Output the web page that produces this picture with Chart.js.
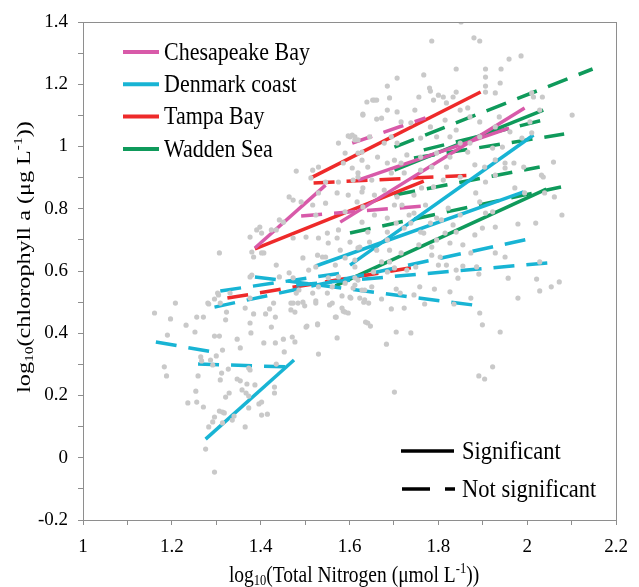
<!DOCTYPE html>
<html>
<head>
<meta charset="utf-8">
<script src="https://cdn.jsdelivr.net/npm/chart.js@4.4.1/dist/chart.umd.min.js"></script>
<style>
  html, body { margin: 0; padding: 0; background: #fff; }
</style>
</head>
<body>
<canvas id="chart" width="639" height="587"></canvas>
<script>
// sites and regression fits (log10 TN vs log10 chl a)
const sites = ['Chesapeake Bay', 'Denmark coast', 'Tampa Bay', 'Wadden Sea'];
const fitSite = [0,0,0,0,0, 1,1,1,1,1,1,1,1,1, 2,2,2,2, 3,3,3,3,3,3,3];
const fitSignificant = [1,0,1,0,1, 1,0,0,0,0,0,0,1,1, 1,1,0,0, 0,0,1,0,0,1,0];
const fitX1 = [1.387,1.606,1.579,1.491,1.619, 1.276,1.164,1.259,1.309,1.296,1.480,1.387,1.601,1.524, 1.387,1.513,1.519,1.325, 1.701,1.745,1.701,1.701,1.601,1.568,1.767];
const fitY1 = [0.674,1.011,0.757,0.777,0.892, 0.060,0.372,0.301,0.536,0.484,0.555,0.581,0.619,0.616, 0.671,0.899,0.883,0.513, 0.998,0.963,0.924,0.844,0.722,0.552,0.989];
const fitX2 = [1.546,1.771,1.994,1.767,1.959, 1.475,1.292,1.457,1.601,2.014,2.070,1.877,2.014,1.992, 1.767,1.895,1.877,1.762, 2.147,2.083,2.036,2.028,2.076,2.043,2.036];
const fitY2 = [0.876,1.092,1.124,0.809,1.059, 0.314,0.340,0.292,0.597,0.706,0.629,0.491,1.037,0.854, 0.889,1.175,0.908,0.616, 1.249,1.040,1.117,0.934,0.870,0.863,1.085];

// observations [log10 TN, log10 chl a]
const observations = [
  [1.161,0.465],[1.208,0.497],[1.197,0.446],[1.232,0.426],[1.256,0.452],[1.271,0.452],[1.283,0.494],[1.296,0.510],
  [1.305,0.523],[1.252,0.404],[1.190,0.394],[1.296,0.391],[1.307,0.391],[1.323,0.468],[1.321,0.443],[1.314,0.346],
  [1.347,0.381],[1.354,0.353],[1.376,0.433],[1.378,0.401],[1.384,0.462],[1.365,0.481],[1.411,0.462],[1.420,0.478],
  [1.433,0.452],[1.424,0.420],[1.407,0.369],[1.433,0.369],[1.451,0.381],[1.453,0.340],[1.471,0.388],[1.477,0.372],
  [1.477,0.468],[1.468,0.497],[1.484,0.497],[1.499,0.488],[1.504,0.423],[1.528,0.430],[1.530,0.333],[1.524,0.504],
  [1.555,0.491],[1.570,0.452],[1.572,0.385],[1.586,0.471],[1.597,0.465],[1.583,0.520],[1.603,0.513],[1.183,0.292],
  [1.188,0.263],[1.254,0.214],[1.236,0.176],[1.256,0.179],[1.271,0.163],[1.259,0.263],[1.265,0.324],[1.267,0.311],
  [1.287,0.314],[1.300,0.327],[1.292,0.298],[1.312,0.272],[1.309,0.250],[1.327,0.285],[1.321,0.195],[1.329,0.208],
  [1.296,0.131],[1.283,0.099],[1.292,0.115],[1.307,0.150],[1.314,0.147],[1.318,0.144],[1.314,0.112],[1.336,0.121],
  [1.340,0.134],[1.365,0.099],[1.276,0.028],[1.296,-0.046],[1.373,0.288],[1.376,0.282],[1.347,0.253],[1.354,0.247],
  [1.369,0.237],[1.387,0.234],[1.358,0.218],[1.367,0.208],[1.373,0.198],[1.373,0.160],[1.396,0.173],[1.402,0.179],
  [1.402,0.137],[1.415,0.140],[1.431,0.227],[1.431,0.208],[1.435,0.301],
  [2.078,0.780],[2.019,0.754],[1.979,0.751],[1.922,0.790],[1.906,0.786],[1.928,0.741],[1.899,0.738],[1.882,0.716],
  [1.855,0.684],[1.826,0.690],[1.796,0.700],[1.767,0.722],[1.873,0.658],[1.928,0.658],[1.950,0.645],[2.028,0.629],
  [1.957,0.577],[2.021,0.574],[2.028,0.536],[2.054,0.549],[2.072,0.565],[1.979,0.513],[1.891,0.590],[1.873,0.513],
  [1.893,0.465],[1.899,0.427],[1.939,0.404],[1.922,0.292],[1.891,0.263],[1.904,0.253],[1.701,0.211],[1.683,0.365],
  [1.705,0.404],[1.738,0.401],[1.636,0.436],[1.647,0.423],[1.694,0.478],[1.723,0.481],[1.769,0.494],[1.835,0.494],
  [1.826,0.533],[1.791,0.542],[1.758,0.549],[1.705,0.542],[1.714,0.529],[1.672,0.510],[1.632,0.500],[1.643,0.497],
  [1.745,0.523],[1.844,0.577],[1.886,0.613],[1.855,0.616],[1.804,0.645],[1.785,0.651],[1.800,0.619],[1.818,0.619],
  [1.840,0.603],[1.749,0.613],[1.690,0.629],[1.701,0.610],[1.729,0.603],[1.619,0.571],[1.634,0.539],[1.685,0.597],
  [1.654,0.597],[1.672,0.629],[1.661,0.667],[1.623,0.677],[1.645,0.693],[1.685,0.700],[1.690,0.667],[1.716,0.658],
  [1.756,0.684],[1.785,0.677],[1.815,0.722],[1.840,0.725],[1.833,0.748],[1.807,0.764],[1.796,0.770],[1.849,0.780],
  [1.822,0.802],[1.771,0.812],[1.745,0.786],[1.738,0.754],[1.705,0.754],[1.685,0.770],[1.656,0.780],[1.628,0.757],
  [1.641,0.725],[1.685,0.725],[1.723,0.738],[1.760,0.725],[1.782,0.754],[1.701,0.812],[1.718,0.812],[1.734,0.780],
  [1.630,0.806],[1.893,0.822],[2.061,0.838],[2.032,0.908],
  [1.851,1.400],[1.785,1.339],[1.880,1.349],[1.893,1.339],[1.959,1.281],[1.986,1.291],[2.101,1.101],[1.707,1.220],
  [1.685,1.194],[1.690,1.156],[1.652,1.149],[1.661,1.149],[1.767,1.230],[1.780,1.188],[1.782,1.178],[1.789,1.149],
  [1.756,1.159],[1.800,1.165],[1.811,1.159],[1.833,1.159],[1.840,1.175],[1.840,1.249],[1.906,1.249],[1.906,1.223],
  [1.906,1.194],[1.906,1.175],[1.941,1.249],[1.928,1.172],[2.014,1.159],[2.034,1.159],[1.747,1.117],[1.707,1.111],
  [1.630,1.101],[1.661,1.088],[1.716,1.079],[1.818,1.140],[1.815,1.085],[1.849,1.117],[1.866,1.124],[1.871,1.095],
  [1.893,1.079],[1.937,1.095],[1.928,1.063],[1.961,1.047],[2.006,1.079],[2.028,1.117],[1.988,1.027],[2.010,1.044],
  [1.950,0.947],[1.970,0.947],[1.992,0.934],[2.059,0.950],[2.036,0.902],[2.039,0.851],[1.994,0.851],[1.972,0.867],
  [1.950,0.931],[1.928,0.908],[1.906,0.886],[1.884,0.851],[1.849,0.902],[1.811,0.892],[1.789,0.870],[1.762,0.867],
  [1.745,0.844],[1.707,0.838],[1.678,0.860],[1.656,0.844],[1.630,0.867],[1.619,0.902],[1.650,0.892],[1.641,0.934],
  [1.663,0.966],[1.628,0.956],[1.612,1.031],[1.619,1.021],[1.645,1.031],[1.694,1.031],[1.707,1.011],[1.738,1.076],
  [1.760,1.027],[1.782,1.063],[1.796,1.031],[1.826,1.031],[1.840,1.053],[1.849,1.011],[1.871,1.011],[1.893,1.031],
  [1.922,0.995],[1.944,0.998],[1.866,0.982],[1.826,0.966],[1.796,0.979],[1.760,0.966],[1.729,0.973],[1.716,0.947],
  [1.685,0.947],[1.694,0.915],[1.723,0.915],[1.760,0.924],[1.785,0.934],[1.818,0.934],[1.882,0.941],[1.904,0.934],
  [1.928,0.957],[1.628,0.982],
  [1.597,1.034],[1.575,1.011],[1.612,1.021],[1.590,0.979],[1.619,0.979],[1.530,0.934],[1.517,0.924],[1.513,0.899],
  [1.480,0.921],[1.586,0.947],[1.606,0.931],[1.619,0.915],[1.546,0.886],[1.575,0.886],[1.608,0.892],[1.530,0.851],
  [1.572,0.851],[1.597,0.844],[1.628,0.854],[1.464,0.838],[1.473,0.828],[1.491,0.822],[1.517,0.812],[1.546,0.818],
  [1.617,0.822],[1.590,0.790],[1.524,0.780],[1.451,0.757],[1.442,0.764],[1.424,0.732],[1.398,0.741],[1.391,0.732],
  [1.402,0.722],[1.435,0.732],[1.376,0.709],[1.473,0.706],[1.502,0.709],[1.575,0.732],[1.572,0.706],[1.601,0.693],
  [1.550,0.722],[1.530,0.706],[1.528,0.651],[1.546,0.645],[1.579,0.667],[1.590,0.642],[1.619,0.674],[1.552,0.690],
  [1.307,0.658],[1.380,0.661],[1.407,0.658],[1.384,0.645],[1.435,0.619],[1.495,0.642],[1.524,0.613],[1.568,0.619],
  [1.612,0.613],[1.464,0.594],[1.508,0.603],[1.442,0.581],[1.376,0.581],[1.575,0.581],[1.612,0.578],[1.590,0.561],
  [1.561,0.549],[1.530,0.549],[1.486,0.539],[1.517,0.529],[1.550,0.529],[1.608,0.545],[1.623,0.513],[1.281,0.497],
  [1.303,0.529],[1.331,0.529],[1.376,0.513],[1.429,0.497],[1.473,0.497],[1.495,0.500],[1.524,0.497],[1.561,0.497],
  [1.309,0.497],
  [1.639,1.143],[1.656,1.149],[1.630,1.104],[1.672,1.091],[1.685,1.117],[1.606,1.037],[1.601,1.031],[1.678,1.011],
  [1.701,0.956],[1.402,0.658],
  [1.552,0.578],[1.612,0.555],[1.628,0.539],[1.650,0.549],[1.601,0.516],[1.634,0.507],[1.583,0.481],[1.590,0.468],
  [1.568,0.452],[1.641,0.433],[1.480,0.529],[1.468,0.475],[1.502,0.420],[1.528,0.427],[1.380,0.587],[1.473,0.578],
  [1.539,0.645],[1.612,0.635],[1.939,1.204],[2.010,1.172]
];

const xTickStep = 0.1;
const yTickStep = 0.1;

const siteColors = ['#d85aa9', '#18b4d4', '#ee2a2a', '#0f9a5b'];
const dashPattern = [21, 12];
const serif = '"Liberation Serif", "Times New Roman", serif';

const fitSets = fitSite.map((s, i) => ({
  type: 'line',
  label: sites[s],
  data: [{ x: fitX1[i], y: fitY1[i] }, { x: fitX2[i], y: fitY2[i] }],
  borderColor: siteColors[s],
  borderWidth: 3.5,
  borderDash: fitSignificant[i] ? [] : dashPattern,
  borderCapStyle: 'butt',
  pointRadius: 0,
  fill: false,
  order: 2
}));

// text with sub/superscripts; the source figure's lettering is a little tall
function drawRich(ctx, parts, x, y, sx, sy) {
  let w = 0;
  parts.forEach(p => { ctx.font = p[1] + 'px ' + serif; w += ctx.measureText(p[0]).width; });
  ctx.save();
  ctx.translate(x, y);
  ctx.scale(sx, sy);
  let cx = -w / 2;
  ctx.textAlign = 'left';
  ctx.textBaseline = 'alphabetic';
  parts.forEach(p => {
    ctx.font = p[1] + 'px ' + serif;
    ctx.fillText(p[0], cx, p[2] || 0);
    cx += ctx.measureText(p[0]).width;
  });
  ctx.restore();
}

function drawTall(ctx, text, x, y, size, sy) {
  ctx.save();
  ctx.translate(x, y);
  ctx.scale(1, sy);
  ctx.font = size + 'px ' + serif;
  ctx.textAlign = 'left';
  ctx.textBaseline = 'middle';
  ctx.fillText(text, 0, 0);
  ctx.restore();
}

const decorations = {
  id: 'decorations',
  afterDatasetsDraw(chart) {
    const { ctx, chartArea: a } = chart;
    ctx.save();
    ctx.strokeStyle = '#8e8e8e';
    ctx.lineWidth = 1;
    ctx.strokeRect(Math.round(a.left) + 0.5, Math.round(a.top) + 0.5, Math.round(a.right - a.left), Math.round(a.bottom - a.top));
    ctx.restore();
  },
  afterDraw(chart) {
    const { ctx } = chart;
    ctx.save();
    ctx.fillStyle = '#000';
    // site legend
    sites.forEach((s, i) => {
      const y = 52 + i * 32.3;
      ctx.strokeStyle = siteColors[i];
      ctx.lineWidth = 4;
      ctx.beginPath(); ctx.moveTo(123, y); ctx.lineTo(159, y); ctx.stroke();
      drawTall(ctx, s, 164, y + 1, 22, 1.15);
    });
    // significance legend
    ctx.strokeStyle = '#000';
    ctx.lineWidth = 3.5;
    ctx.beginPath(); ctx.moveTo(401, 451); ctx.lineTo(454, 451); ctx.stroke();
    ctx.beginPath(); ctx.moveTo(402, 489); ctx.lineTo(430, 489); ctx.moveTo(445, 489); ctx.lineTo(455, 489); ctx.stroke();
    drawTall(ctx, 'Significant', 462, 452, 22.5, 1.15);
    drawTall(ctx, 'Not significant', 462, 490, 22.5, 1.15);
    // axis titles
    drawRich(ctx, [['log', 19.5], ['10', 12.5, 3], ['(Total Nitrogen (μmol L', 19.5], ['-1', 12.5, -8], ['))', 19.5]], 354, 582, 1, 1.15);
    ctx.translate(30, 257);
    ctx.rotate(-Math.PI / 2);
    drawRich(ctx, [['log', 19.5], ['10', 12.5, 3], ['(chlorophyll a (μg L', 19.5], ['-1', 12.5, -8], ['))', 19.5]], 0, 0, 1.24, 1);
    ctx.restore();
  }
};

function tickLabel(v) {
  const k = Math.round(v * 10);
  return k % 2 === 0 ? String(k / 10) : '';
}

new Chart(document.getElementById('chart'), {
  data: {
    datasets: [
      {
        type: 'scatter',
        label: 'observations',
        data: observations.map(p => ({ x: p[0], y: p[1] })),
        backgroundColor: '#c9c9c9',
        borderWidth: 0,
        pointRadius: 2.6,
        order: 1
      },
      ...fitSets
    ]
  },
  options: {
    responsive: false,
    devicePixelRatio: 1,
    animation: false,
    layout: { padding: { top: 22, right: 13, left: 0, bottom: 0 } },
    plugins: { legend: { display: false }, tooltip: { enabled: false } },
    scales: {
      x: {
        type: 'linear', min: 1, max: 2.2,
        afterFit: s => { s.height = 67; },
        ticks: { stepSize: xTickStep, callback: tickLabel, autoSkip: false, maxRotation: 0, color: '#000', padding: 11, font: { family: serif, size: 19 } },
        grid: { drawOnChartArea: false, drawTicks: true, tickLength: 5, color: '#8e8e8e' },
        border: { color: '#8e8e8e' }
      },
      y: {
        type: 'linear', min: -0.2, max: 1.4,
        afterFit: s => { s.width = 83; },
        ticks: { stepSize: yTickStep, callback: tickLabel, autoSkip: false, color: '#000', padding: 10, font: { family: serif, size: 19 } },
        grid: { drawOnChartArea: false, drawTicks: true, tickLength: 5, color: '#8e8e8e' },
        border: { color: '#8e8e8e' }
      }
    }
  },
  plugins: [decorations]
});
</script>
</body>
</html>
